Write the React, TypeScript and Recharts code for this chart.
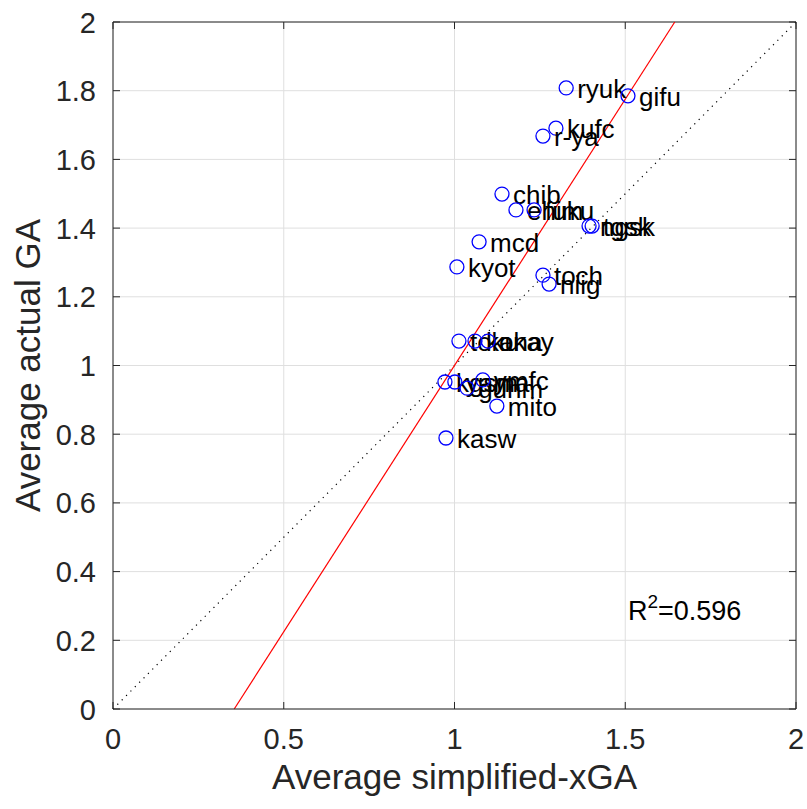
import React from 'react';
import {
  ScatterChart,
  Scatter,
  XAxis,
  YAxis,
  CartesianGrid,
  ReferenceLine,
  ReferenceDot,
} from 'recharts';

const teams = ['ryuk', 'gifu', 'kufc', 'r-ya', 'chib', 'ehim', 'fuku', 'ngsk', 'tgsk', 'mcd', 'kyot', 'toch', 'niig', 'toku', 'kana', 'okay', 'kgsm', 'yama', 'gunm', 'ymfc', 'mito', 'kasw'];
const simplifiedXGA = [1.327, 1.508, 1.297, 1.259, 1.139, 1.18, 1.233, 1.394, 1.403, 1.072, 1.007, 1.259, 1.277, 1.013, 1.06, 1.098, 0.972, 1.001, 1.037, 1.083, 1.124, 0.975];
const actualGA = [1.808, 1.785, 1.691, 1.668, 1.499, 1.453, 1.453, 1.406, 1.406, 1.36, 1.287, 1.263, 1.237, 1.071, 1.071, 1.071, 0.952, 0.952, 0.934, 0.958, 0.882, 0.789];

const xTicks = [0, 0.5, 1, 1.5, 2];
const yTicks = [0, 0.2, 0.4, 0.6, 0.8, 1, 1.2, 1.4, 1.6, 1.8, 2];

const fitStart = { x: 0.355, y: 0 };
const fitEnd = { x: 1.645, y: 2 };
const r2Text = '0.596';
const r2Pos = { x: 1.508, y: 0.259 };

const data = teams.map((name, i) => ({ name, x: simplifiedXGA[i], y: actualGA[i] }));

const FONT = '"Liberation Sans", Arial, Helvetica, sans-serif';
const AXIS_COLOR = '#262626';
const PLOT_LEFT = 113;
const PLOT_BOTTOM = 709;
const PLOT_TOP = 22;
const PLOT_RIGHT = 796;
const TICK_LEN = 7;

const fmt = (v: number) => String(Number(v.toFixed(1)));

const XTick = (props: any) => {
  const { x, payload } = props;
  return (
    <g>
      <line x1={x} x2={x} y1={PLOT_BOTTOM} y2={PLOT_BOTTOM - TICK_LEN} stroke={AXIS_COLOR} strokeWidth={1} />
      <line x1={x} x2={x} y1={PLOT_TOP} y2={PLOT_TOP + TICK_LEN} stroke={AXIS_COLOR} strokeWidth={1} />
      <text x={x} y={749} textAnchor="middle" fontSize={29} fontFamily={FONT} fill={AXIS_COLOR}>
        {fmt(payload.value)}
      </text>
    </g>
  );
};

const YTick = (props: any) => {
  const { y, payload } = props;
  return (
    <g>
      <line x1={PLOT_LEFT} x2={PLOT_LEFT + TICK_LEN} y1={y} y2={y} stroke={AXIS_COLOR} strokeWidth={1} />
      <line x1={PLOT_RIGHT} x2={PLOT_RIGHT - TICK_LEN} y1={y} y2={y} stroke={AXIS_COLOR} strokeWidth={1} />
      <text x={96} y={y + 10.5} textAnchor="end" fontSize={29} fontFamily={FONT} fill={AXIS_COLOR}>
        {fmt(payload.value)}
      </text>
    </g>
  );
};

const PointShape = (props: any) => {
  const { cx, cy, payload } = props;
  if (cx == null || cy == null) return null;
  return (
    <g>
      <circle cx={cx} cy={cy} r={7} fill="none" stroke="#0000ff" strokeWidth={1.3} />
      <text x={cx + 11} y={cy + 10} fontSize={26} fontFamily={FONT} fill="#000">
        {payload.name}
      </text>
    </g>
  );
};

const XLabel = (props: any) => {
  const vb = props.viewBox || {};
  const cx = (vb.x ?? PLOT_LEFT) + (vb.width ?? 683) / 2;
  return (
    <text x={cx} y={789} textAnchor="middle" fontSize={35} fontFamily={FONT} fill={AXIS_COLOR}>
      Average simplified-xGA
    </text>
  );
};

const YLabel = (props: any) => {
  const vb = props.viewBox || {};
  const cy = (vb.y ?? PLOT_TOP) + (vb.height ?? 687) / 2;
  return (
    <text
      x={40}
      y={cy}
      transform={`rotate(-90, 40, ${cy})`}
      textAnchor="middle"
      fontSize={35}
      fontFamily={FONT}
      fill={AXIS_COLOR}
    >
      Average actual GA
    </text>
  );
};

const R2Label = (props: any) => {
  const vb = props.viewBox || {};
  const x = vb.x ?? 0;
  const y = vb.y ?? 0;
  return (
    <text x={x} y={y} fontSize={27} fontFamily={FONT} fill="#000">
      <tspan>R</tspan>
      <tspan fontSize={19} dy={-12}>2</tspan>
      <tspan dy={12}>{'=' + r2Text}</tspan>
    </text>
  );
};

export default function App() {
  return (
    <div style={{ position: 'absolute', left: 0, top: 0, width: 807, height: 809, background: '#fff' }}>
      <ScatterChart width={807} height={809} margin={{ top: 22, right: 11, bottom: 0, left: 0 }}>
        <CartesianGrid stroke="#dfdfdf" strokeWidth={1} />
        <XAxis
          type="number"
          dataKey="x"
          domain={[0, 2]}
          ticks={xTicks}
          height={100}
          tickLine={false}
          axisLine={{ stroke: AXIS_COLOR, strokeWidth: 1 }}
          tick={<XTick />}
          interval={0}
          allowDataOverflow
          label={<XLabel />}
        />
        <YAxis
          type="number"
          dataKey="y"
          domain={[0, 2]}
          ticks={yTicks}
          width={113}
          tickLine={false}
          axisLine={{ stroke: AXIS_COLOR, strokeWidth: 1 }}
          tick={<YTick />}
          interval={0}
          allowDataOverflow
          label={<YLabel />}
        />
        <ReferenceLine y={2} stroke={AXIS_COLOR} strokeWidth={1} />
        <ReferenceLine x={2} stroke={AXIS_COLOR} strokeWidth={1} />
        <ReferenceLine
          segment={[{ x: 0, y: 0 }, { x: 2, y: 2 }]}
          stroke="#000"
          strokeWidth={1.2}
          strokeDasharray="1.2 5"
        />
        <ReferenceLine segment={[fitStart, fitEnd]} stroke="#ff0000" strokeWidth={1.2} />
        <ReferenceDot x={r2Pos.x} y={r2Pos.y} r={0} fill="none" stroke="none" label={<R2Label />} />
        <Scatter data={data} shape={<PointShape />} isAnimationActive={false} />
      </ScatterChart>
    </div>
  );
}
